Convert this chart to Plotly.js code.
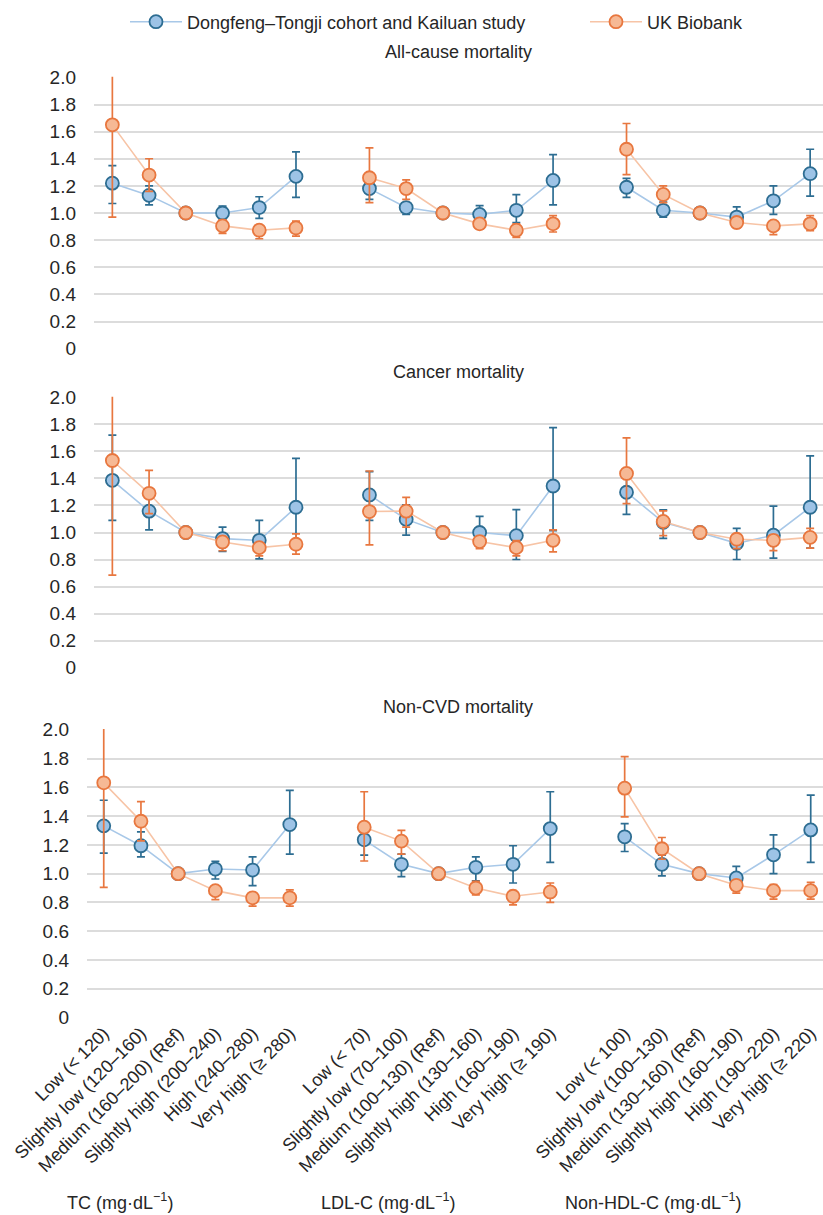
<!DOCTYPE html>
<html><head><meta charset="utf-8">
<script src="https://cdn.plot.ly/plotly-3.0.1.min.js"></script>
<style>html,body{margin:0;padding:0;background:#fff}</style>
</head><body><div id="chart" style="width:823px;height:1215px"></div>
<script>
// Category labels (three lipid groups, 6 levels each)
const tcLabels = ["Low (< 120)","Slightly low (120–160)","Medium (160–200) (Ref)","Slightly high (200–240)","High (240–280)","Very high (≥ 280)"];
const ldlLabels = ["Low (< 70)","Slightly low (70–100)","Medium (100–130) (Ref)","Slightly high (130–160)","High (160–190)","Very high (≥ 190)"];
const nonHdlLabels = ["Low (< 100)","Slightly low (100–130)","Medium (130–160) (Ref)","Slightly high (160–190)","High (190–220)","Very high (≥ 220)"];
const groupTitles = ["TC (mg·dL<sup>−1</sup>)","LDL-C (mg·dL<sup>−1</sup>)","Non-HDL-C (mg·dL<sup>−1</sup>)"];
const panelTitles = ["All-cause mortality","Cancer mortality","Non-CVD mortality"];
const seriesNames = ["Dongfeng–Tongji cohort and Kailuan study","UK Biobank"];
const yTickVals = [0,0.2,0.4,0.6,0.8,1.0,1.2,1.4,1.6,1.8,2.0];
const yTickText = ["0","0.2","0.4","0.6","0.8","1.0","1.2","1.4","1.6","1.8","2.0"];

// Values ordered TC(6), LDL-C(6), Non-HDL-C(6); ref = null CI
// All-cause mortality
const allDfHR  = [1.22,1.13,1.00,1.00,1.04,1.27, 1.18,1.04,1.00,0.99,1.02,1.24, 1.19,1.02,1.00,0.97,1.09,1.29];
const allDfLo  = [1.07,1.06,null,0.95,0.96,1.115, 1.10,0.99,null,0.95,0.93,1.06, 1.115,0.97,null,0.91,0.99,1.125];
const allDfHi  = [1.35,1.20,null,1.05,1.12,1.45, 1.27,1.075,null,1.055,1.135,1.43, 1.255,1.08,null,1.045,1.20,1.47];
const allUkHR  = [1.65,1.28,1.00,0.905,0.873,0.89, 1.26,1.18,1.00,0.92,0.873,0.92, 1.47,1.137,1.00,0.93,0.905,0.92];
const allUkLo  = [0.97,1.16,null,0.85,0.81,0.83, 1.076,1.10,null,0.88,0.82,0.86, 1.283,1.076,null,0.89,0.84,0.87];
const allUkHi  = [2.10,1.40,null,0.95,0.90,0.94, 1.48,1.244,null,0.946,0.92,0.98, 1.66,1.20,null,0.946,0.94,0.98];
// Cancer mortality
const canDfHR  = [1.386,1.158,1.00,0.955,0.942,1.187, 1.278,1.097,1.00,1.00,0.977,1.344, 1.298,1.075,1.00,0.92,0.98,1.187];
const canDfLo  = [1.09,1.02,null,0.86,0.805,0.93, 1.09,0.98,null,0.90,0.80,1.013, 1.134,0.957,null,0.80,0.81,0.884];
const canDfHi  = [1.72,1.29,null,1.04,1.09,1.548, 1.45,1.205,null,1.12,1.17,1.776, 1.46,1.168,null,1.03,1.195,1.567];
const canUkHR  = [1.533,1.29,1.00,0.93,0.888,0.913, 1.155,1.158,1.00,0.933,0.888,0.942, 1.437,1.082,1.00,0.95,0.942,0.964];
const canUkLo  = [0.685,1.14,null,0.865,0.827,0.84, 0.908,1.04,null,0.88,0.827,0.857, 1.214,0.977,null,0.88,0.866,0.884];
const canUkHi  = [2.10,1.46,null,0.97,0.92,0.99, 1.455,1.26,null,0.97,0.94,1.02, 1.70,1.16,null,0.99,0.98,1.03];
// Non-CVD mortality
const ncvDfHR  = [1.332,1.194,1.00,1.032,1.025,1.341, 1.235,1.065,1.00,1.044,1.065,1.313, 1.256,1.065,1.00,0.97,1.131,1.304];
const ncvDfLo  = [1.143,1.117,null,0.963,0.917,1.136, 1.129,0.98,null,0.95,0.935,1.078, 1.154,0.984,null,0.896,1.00,1.078];
const ncvDfHi  = [1.51,1.29,null,1.085,1.117,1.578, 1.34,1.136,null,1.117,1.194,1.569, 1.348,1.129,null,1.05,1.27,1.546];
const ncvUkHR  = [1.631,1.364,1.00,0.882,0.832,0.832, 1.323,1.226,1.00,0.90,0.843,0.873, 1.594,1.173,1.00,0.919,0.882,0.882];
const ncvUkLo  = [0.905,1.228,null,0.82,0.774,0.774, 1.088,1.136,null,0.853,0.783,0.80, 1.394,1.10,null,0.864,0.823,0.823];
const ncvUkHi  = [2.10,1.50,null,0.912,0.86,0.887, 1.569,1.30,null,0.947,0.882,0.935, 1.813,1.251,null,0.947,0.924,0.94];

const panels = [
  {df:[allDfHR,allDfLo,allDfHi], uk:[allUkHR,allUkLo,allUkHi]},
  {df:[canDfHR,canDfLo,canDfHi], uk:[canUkHR,canUkLo,canUkHi]},
  {df:[ncvDfHR,ncvDfLo,ncvDfHi], uk:[ncvUkHR,ncvUkLo,ncvUkHi]}
];

// Build x positions with a gap slot between groups
const perGroup = 6;
function expand(arr){ // insert nulls at gap slots
  const out=[];
  for(let g=0; g<3; g++){
    for(let i=0;i<perGroup;i++) out.push(arr[g*perGroup+i]);
    if(g<2) out.push(null);
  }
  return out;
}
const xs = []; for(let k=0;k<3*perGroup+2;k++) xs.push(k);
const allLabels = tcLabels.concat([""], ldlLabels, [""], nonHdlLabels);
const tickVals = [], tickText = [];
allLabels.forEach((l,k)=>{ if(l!==""){ tickVals.push(k); tickText.push(l);} });

const style = {
  df:{fill:'#9dc3e6', edge:'#2d6d92', line:'#a8c8e8', err:'#2d6d92'},
  uk:{fill:'#f6b995', edge:'#e8773f', line:'#f7c4a6', err:'#e8773f'}
};

const traces=[];
panels.forEach((p,pi)=>{
  const ax = pi===0?'':String(pi+1);
  ['df','uk'].forEach((key,si)=>{
    const [hr,lo,hi]=p[key];
    const y = expand(hr), l = expand(lo), h = expand(hi);
    const plus = y.map((v,i)=> (v==null||h[i]==null)?NaN:h[i]-v);
    const minus = y.map((v,i)=> (v==null||l[i]==null)?NaN:v-l[i]);
    const s = style[key];
    traces.push({
      type:'scatter', mode:'lines+markers', x:xs, y:y, connectgaps:false,
      xaxis:'x'+ax, yaxis:'y'+ax,
      name:seriesNames[si], showlegend: pi===0, legend: si===0?'legend':'legend2',
      line:{color:s.line,width:1.6},
      marker:{symbol:'circle',size:13,color:s.fill,line:{color:s.edge,width:1.8}},
      error_y:{type:'data',symmetric:false,array:plus,arrayminus:minus,color:s.err,thickness:1.7,width:4},
      hoverinfo:'x+y'
    });
  });
});

const W=823,H=1215;
const font = {family:'Arial, "Liberation Sans", sans-serif', color:'#262626'};
function ydom(top,bottom){return [1-bottom/H, 1-top/H];}
const yBase = {range:[-0.005,2.005], tickvals:yTickVals, ticktext:yTickText, showgrid:true, gridcolor:'#dcdcdc', gridwidth:2,
  zeroline:false, showline:false, ticks:'', tickfont:{size:19,color:'#262626'}, ticklabelstandoff:17, fixedrange:true, automargin:false};
const xBase = {range:[-0.5,19.35], showgrid:false, zeroline:false, showline:false, ticks:'', showticklabels:false, automargin:false};

const layout = {
  width:W, height:H, margin:{l:0,r:0,t:0,b:0}, paper_bgcolor:'#fff', plot_bgcolor:'#fff', font:font,
  showlegend:true,
  legend:{x:125/W, y:1-22/H, xanchor:'left', yanchor:'middle', orientation:'h', font:{size:18,color:'#262626'}, bgcolor:'rgba(0,0,0,0)', itemwidth:52},
  legend2:{x:585/W, y:1-22/H, xanchor:'left', yanchor:'middle', orientation:'h', font:{size:18,color:'#262626'}, bgcolor:'rgba(0,0,0,0)', itemwidth:52},
  xaxis: Object.assign({}, xBase, {domain:[94/W,1], anchor:'y'}),
  xaxis2: Object.assign({}, xBase, {domain:[94/W,1], anchor:'y2'}),
  xaxis3: Object.assign({}, xBase, {domain:[87/W,1], anchor:'y3', range:[-0.45,19.33], showticklabels:true,
      tickvals:tickVals, ticktext:tickText, tickangle:-45, tickfont:{size:18,color:'#262626'}}),
  yaxis: Object.assign({}, yBase, {domain:ydom(76.7,349.3), anchor:'x'}),
  yaxis2: Object.assign({}, yBase, {domain:ydom(396.7,668.3), anchor:'x2'}),
  yaxis3: Object.assign({}, yBase, {domain:ydom(729,1018.3), anchor:'x3'}),
  annotations:[]
};
const titleY=[52,372,707];
panelTitles.forEach((t,i)=>layout.annotations.push({text:t, xref:'paper', yref:'paper', x:458/W, y:1-titleY[i]/H, showarrow:false,
  xanchor:'center', yanchor:'middle', font:{size:18,color:'#262626'}}));
const gtX=[120,388,653];
groupTitles.forEach((t,i)=>layout.annotations.push({text:t, xref:'paper', yref:'paper', x:gtX[i]/W, y:1-1201/H, showarrow:false,
  xanchor:'center', yanchor:'middle', font:{size:18,color:'#262626'}}));

Plotly.newPlot('chart', traces, layout, {staticPlot:true});
</script></body></html>
